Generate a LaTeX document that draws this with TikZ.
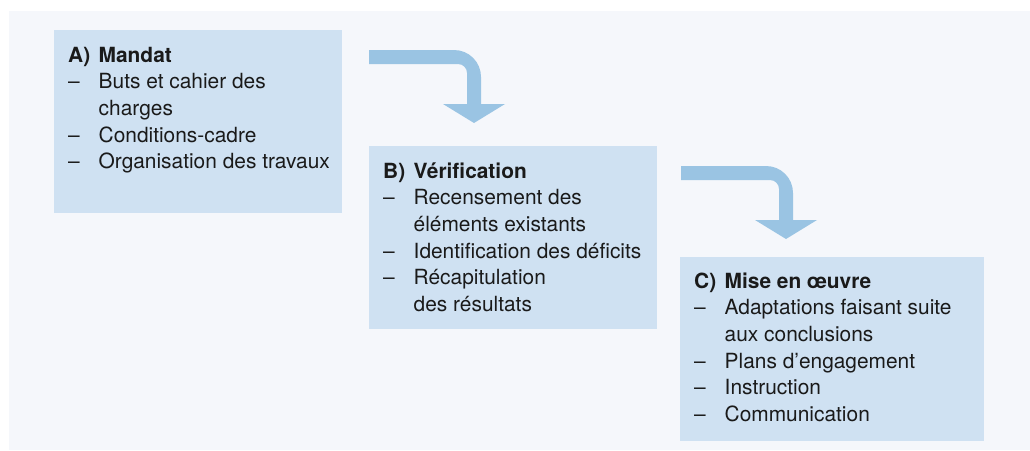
\documentclass[tikz,border=0pt]{standalone}
\usepackage{fontspec}
\setmainfont{TeX Gyre Heros}
\usetikzlibrary{calc}
\definecolor{panelbg}{HTML}{F5F7FB}
\definecolor{boxbg}{HTML}{CFE1F2}
\definecolor{arrowbg}{HTML}{9AC4E3}
\definecolor{txt}{HTML}{1A1A1A}
\tikzset{
  box/.style={fill=boxbg, draw=none, anchor=north west, inner sep=0pt},
  listtext/.style={anchor=base west, inner sep=0pt, text=txt,
    font=\fontsize{20.9}{26.7}\selectfont},
  bentarrow/.pic={
    \fill[arrowbg] (0,0) -- (85,0) .. controls (100,0) and (112,12) .. (112,27)
      -- (112,54) -- (136,54) -- (105,73) -- (74,54) -- (98,54) -- (98,23)
      .. controls (98,18) and (94,14) .. (89,14) -- (0,14) -- cycle;
  }
}
\newcommand\lst[1]{\begin{tabular}[t]{@{}p{30.5pt}@{}l@{}}#1\end{tabular}}
\begin{document}
\begin{tikzpicture}[x=1pt,y=-1pt]
\useasboundingbox (0,0) rectangle (1030,450);
\fill[panelbg] (9,11) rectangle (1030,450);

\node[box, minimum width=288pt, minimum height=183pt] (A) at (54,30) {};
\node[box, minimum width=288pt, minimum height=183pt] (B) at (369,146) {};
\node[box, minimum width=304pt, minimum height=184pt] (C) at (680,257) {};

\node[listtext] (At) at ($(A.north west)+(14,32)$) {\lst{%
\textbf{A)} & \textbf{Mandat}\\
– & Buts et cahier des\\
 & charges\\
– & Conditions-cadre\\
– & Organisation des travaux}};

\node[listtext] (Bt) at ($(B.north west)+(14,32)$) {\lst{%
\textbf{B)} & \textbf{Vérification}\\
– & Recensement des\\
 & éléments existants\\
– & Identification des déficits\\
– & Récapitulation\\
 & des résultats}};

\node[listtext] (Ct) at ($(C.north west)+(14,31)$) {\lst{%
\textbf{C)} & \textbf{Mise en œuvre}\\
– & Adaptations faisant suite\\
 & aux conclusions\\
– & Plans d’engagement\\
– & Instruction\\
– & Communication}};

\pic at (369,50) {bentarrow};
\pic at (681,166) {bentarrow};
\end{tikzpicture}
\end{document}
